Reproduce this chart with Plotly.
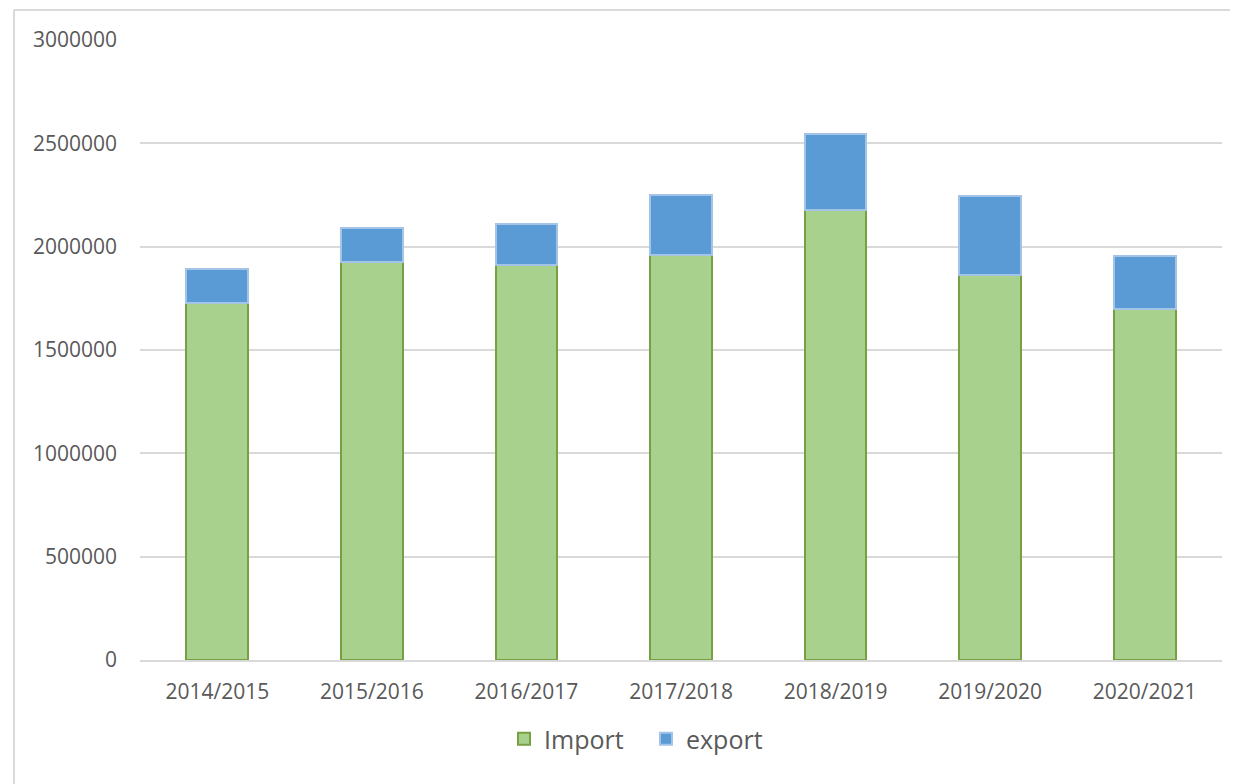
import plotly.graph_objects as go

categories = ["2014/2015", "2015/2016", "2016/2017", "2017/2018", "2018/2019", "2019/2020", "2020/2021"]
import_vals = [1728000, 1926000, 1913000, 1958000, 2179000, 1862000, 1696000]
export_vals = [163000, 162000, 195000, 292000, 365000, 382000, 259000]
y_ticks = [0, 500000, 1000000, 1500000, 2000000, 2500000, 3000000]

fig = go.Figure()
fig.add_trace(go.Bar(
    x=categories, y=import_vals, name="Import",
    marker=dict(color="#A9D18E", line=dict(color="#77A043", width=2)),
))
fig.add_trace(go.Bar(
    x=categories, y=export_vals, name="export",
    marker=dict(color="#5B9BD5", line=dict(color="#A3C4E6", width=2)),
))

# page body adds an 8px offset; figure coordinates below are in reference pixels
OFF = 8
W, H = 1238 - OFF, 784 - OFF
L, R, T, B = 140 - OFF, 16, 40 - OFF, 124
pw, ph = W - L - R, H - T - B

def px(x):
    return (x - OFF - L) / pw

def py(y):
    return (H - B - (y - OFF)) / ph

border = dict(color="#D9D9D9", width=2)

fig.update_layout(
    width=W, height=H,
    margin=dict(l=L, r=R, t=T, b=B, pad=0),
    barmode="stack", bargap=0.6,
    plot_bgcolor="white", paper_bgcolor="white",
    font=dict(family="Open Sans", size=21, color="#595959"),
    showlegend=True,
    legend=dict(
        orientation="h", x=px(524 - 20), xanchor="left", y=py(739), yanchor="middle",
        font=dict(size=25, color="#595959"), itemwidth=30, traceorder="normal",
        entrywidth=97, bgcolor="rgba(0,0,0,0)",
    ),
    xaxis=dict(
        showgrid=False, showline=True, linecolor="#D9D9D9", linewidth=2,
        ticks="", ticklabelstandoff=12, tickfont=dict(size=21, color="#595959"),
        zeroline=False,
    ),
    yaxis=dict(
        range=[0, 3000000], tickvals=y_ticks, ticktext=[str(v) for v in y_ticks],
        showgrid=True, gridcolor="#D9D9D9", gridwidth=1.5,
        zeroline=False, showline=False, ticks="", ticklabelstandoff=22,
        tickfont=dict(size=21, color="#595959"),
    ),
    shapes=[
        dict(type="line", xref="paper", yref="paper",
             x0=px(14), x1=px(1240), y0=py(10), y1=py(10), line=border, layer="below"),
        dict(type="line", xref="paper", yref="paper",
             x0=px(14), x1=px(14), y0=py(10), y1=py(790), line=border, layer="below"),
    ],
)

fig.write_html("out.html")
